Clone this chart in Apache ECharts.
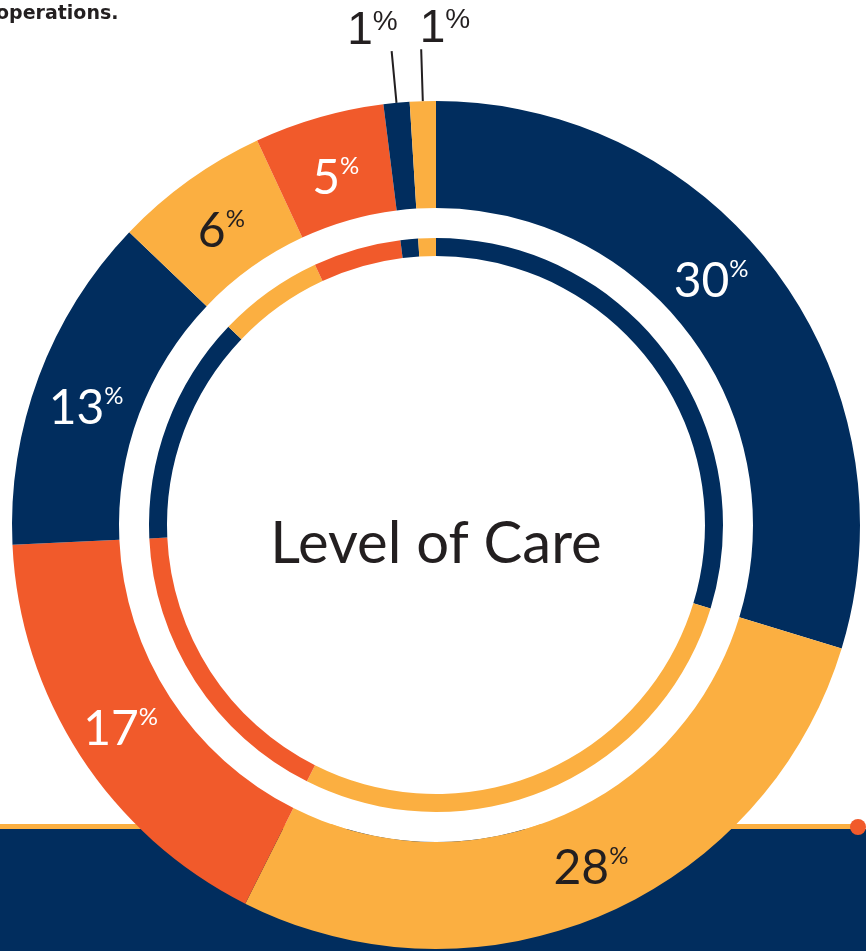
<!DOCTYPE html>
<html>
<head>
<meta charset="utf-8">
<script src="https://cdn.jsdelivr.net/npm/echarts@6/dist/echarts.min.js"></script>
<style>
html,body{margin:0;padding:0;background:#fff;}
#chart{width:866px;height:951px;}
</style>
</head>
<body>
<div id="chart"></div>
<script>
// Data
var categories = ['A', 'B', 'C', 'D', 'E', 'F', 'G', 'H'];
var values = [30, 28, 17, 13, 6, 5, 1, 1];
var colors = ['#012D5E', '#FBAF41', '#F15A2B', '#012D5E', '#FBAF41', '#F15A2B', '#012D5E', '#FBAF41'];
var labelColors = ['#ffffff', '#231F20', '#ffffff', '#ffffff', '#231F20', '#ffffff', '#231F20', '#231F20'];
var centerTitle = 'Level of Care';
var topText = 'operations.';

// label nudges (styling only)
var labelNudge = [[-25, -21], [8, 0], [-2, 1], [0, 14], [3, 10], [3, 12], [11, -20], [54, -20]];

var NAVY = '#012D5E', YELLOW = '#FBAF41', ORANGE = '#F15A2B';

var outerData = values.map(function (v, i) {
  var d = {
    name: categories[i], value: v,
    itemStyle: { color: colors[i] },
    label: { color: labelColors[i] }
  };
  if (v <= 1) {
    d.label = {
      position: 'outside', color: '#231F20',
      formatter: '{n|{c}}{p|%}',
      rich: {
        n: { fontFamily: 'Liberation Sans', fontSize: 46, lineHeight: 46, color: '#231F20' },
        p: { fontFamily: 'Liberation Sans', fontSize: 28, lineHeight: 36, verticalAlign: 'top', color: '#231F20' }
      }
    };
    d.labelLine = { show: true };
  }
  return d;
});
var innerData = values.map(function (v, i) {
  return { name: categories[i], value: v, itemStyle: { color: colors[i] } };
});

var chart = echarts.init(document.getElementById('chart'));
chart.setOption({
  animation: false,
  backgroundColor: '#ffffff',
  graphic: [
    { type: 'rect', z: 0, shape: { x: 0, y: 829, width: 866, height: 130 }, style: { fill: NAVY } },
    { type: 'rect', z: 0, shape: { x: 0, y: 824, width: 858, height: 5 }, style: { fill: YELLOW } },
    { type: 'circle', z: 0, shape: { cx: 858, cy: 827, r: 8 }, style: { fill: ORANGE } },
    { type: 'text', z: 100, x: 436, y: 544, style: { text: centerTitle, fontFamily: 'Lato', fontSize: 58, fill: '#231F20', align: 'center', verticalAlign: 'middle' } },
    { type: 'text', z: 100, x: -4, y: 14, style: { text: topText, fontFamily: 'DejaVu Sans', fontWeight: 'bold', fontSize: 19, fill: '#231F20', align: 'left', verticalAlign: 'middle' } }
  ],
  series: [
    {
      type: 'pie', z: 3, silent: true,
      center: [436, 525], radius: [0, 317],
      label: { show: false }, labelLine: { show: false },
      data: [{ value: 1, itemStyle: { color: '#ffffff' } }]
    },
    {
      type: 'pie', z: 5, silent: true,
      center: [436, 525], radius: [269, 287],
      startAngle: 90, clockwise: true,
      label: { show: false }, labelLine: { show: false },
      data: innerData
    },
    {
      type: 'pie', z: 5, silent: true,
      center: [436, 525], radius: [317, 424],
      startAngle: 90, clockwise: true,
      avoidLabelOverlap: false,
      label: {
        show: true, position: 'inside',
        formatter: '{n|{c}}{p|%}',
        rich: {
          n: { fontFamily: 'Lato', fontSize: 48, lineHeight: 48 },
          p: { fontFamily: 'Lato', fontSize: 24, lineHeight: 40, verticalAlign: 'top' }
        }
      },
      labelLine: { show: true, length: 52, length2: 0, lineStyle: { color: '#231F20', width: 2 } },
      labelLayout: function (params) {
        var n = labelNudge[params.dataIndex] || [0, 0];
        return { dx: n[0], dy: n[1], hideOverlap: false };
      },
      data: outerData
    }
  ]
});
</script>
</body>
</html>
